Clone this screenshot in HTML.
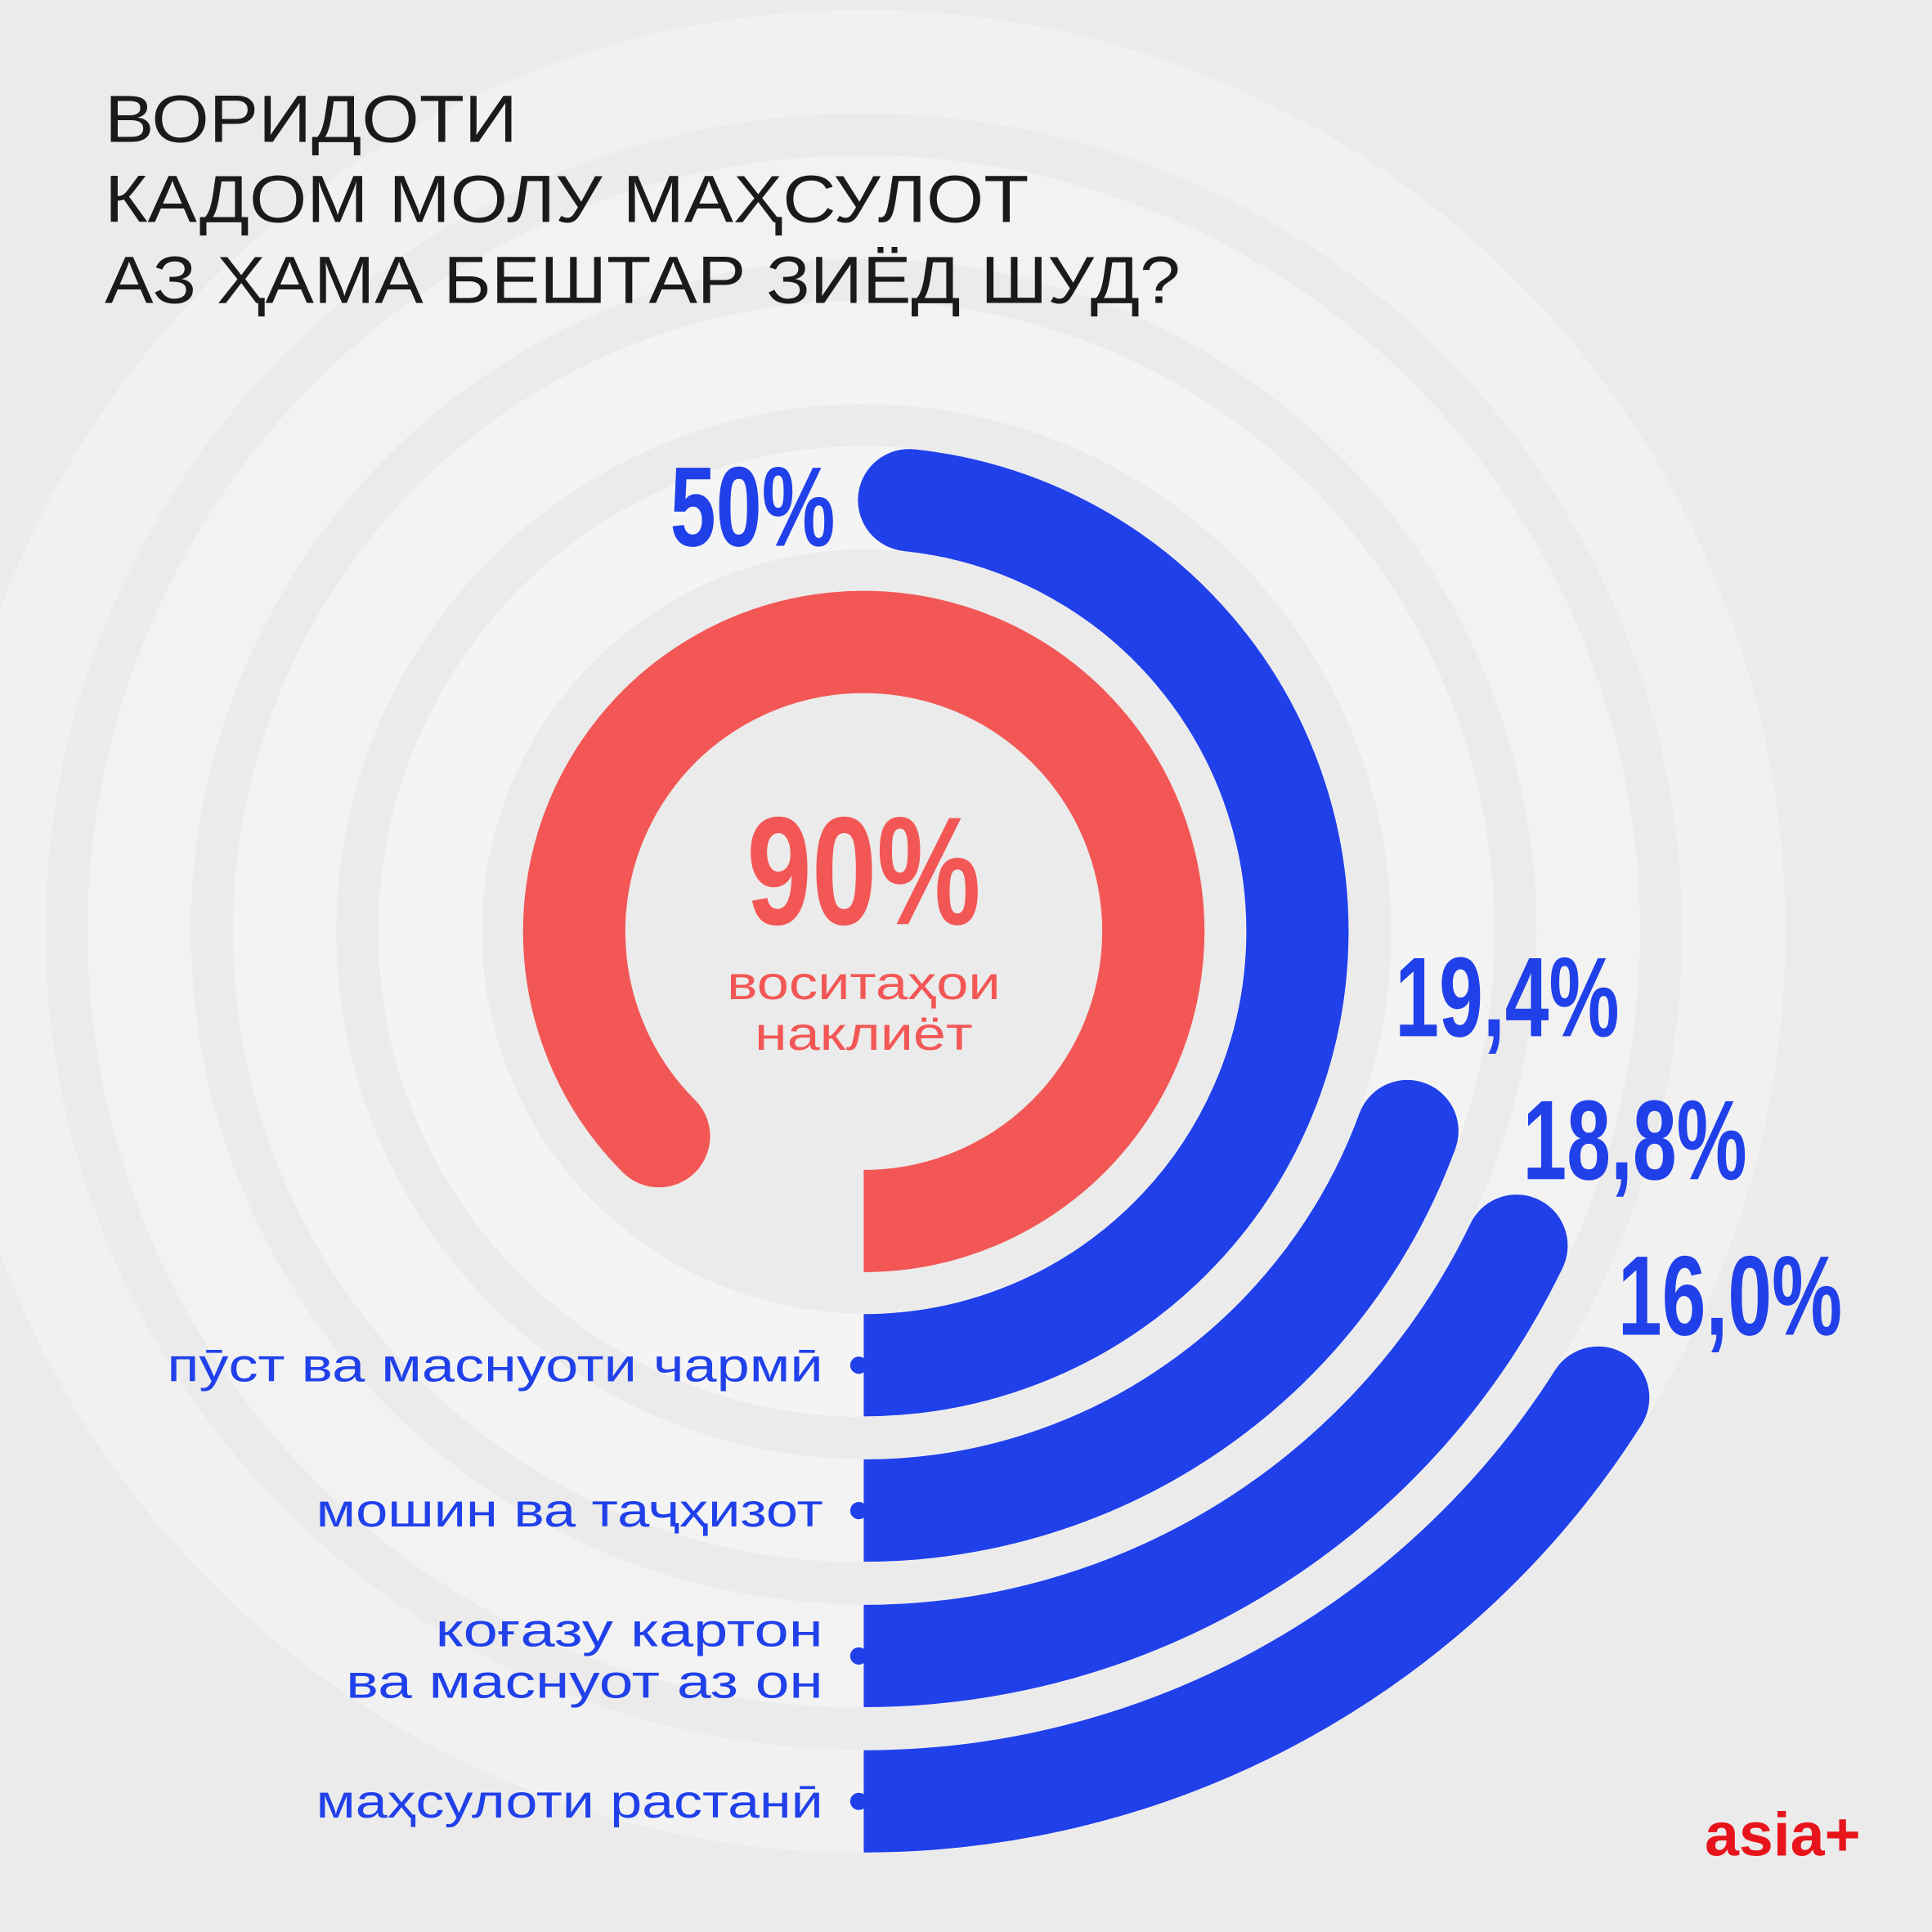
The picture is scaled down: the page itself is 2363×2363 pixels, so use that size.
<!DOCTYPE html>
<html><head><meta charset="utf-8"><style>
html,body{margin:0;padding:0;background:#ebebeb;}
svg{display:block;}
</style></head><body>
<svg width="2363" height="2363" viewBox="0 0 1568 1568" xmlns="http://www.w3.org/2000/svg">
<rect x="0" y="0" width="1568" height="1568" fill="#ebebeb"/>
<g fill="none">
<circle cx="701" cy="756" r="706" stroke="#f1f1f1" stroke-width="84"/>
<circle cx="701" cy="756" r="588" stroke="#f2f2f2" stroke-width="84"/>
<circle cx="701" cy="756" r="470" stroke="#f3f3f3" stroke-width="84"/>
<circle cx="701" cy="756" r="352" stroke="#f4f4f4" stroke-width="84"/>
</g>
<g font-family="Liberation Sans, sans-serif" font-size="54" fill="#1a1a1a">
<text x="85" y="115" textLength="335" lengthAdjust="spacingAndGlyphs">ВОРИДОТИ</text>
<text x="85" y="180" textLength="750" lengthAdjust="spacingAndGlyphs">КАДОМ МОЛУ МАҲСУЛОТ</text>
<text x="85" y="246" textLength="873" lengthAdjust="spacingAndGlyphs">АЗ ҲАМА БЕШТАР ЗИЁД ШУД?</text>
</g>
<g id="arcs"></g>
<g fill="#f25755" text-anchor="middle">
<text x="701" y="750" font-family="Liberation Sans Narrow, Liberation Sans, sans-serif" font-weight="bold" font-size="125" textLength="190" lengthAdjust="spacingAndGlyphs">90%</text>
<text x="701" y="811" font-family="Liberation Sans, sans-serif" font-size="38" textLength="222" lengthAdjust="spacingAndGlyphs">воситаҳои</text>
<text x="701" y="852" font-family="Liberation Sans, sans-serif" font-size="38" textLength="177" lengthAdjust="spacingAndGlyphs">наклиёт</text>
</g>
<g id="labels" font-family="Liberation Sans, sans-serif" font-size="38" fill="#2040ea" text-anchor="end"></g>
<text x="1510" y="1506" font-family="Liberation Sans, sans-serif" font-weight="bold" font-size="50" fill="#e8141c" text-anchor="end">asia+</text>
</svg>
<script>
const categories = ["пӯст ва маснуоти чармӣ", "мошин ва таҷҳизот", "коғазу картон|ва маснуот аз он", "маҳсулоти растанӣ"];
const values = [50, 19.4, 18.8, 16.0];
const valueLabels = ["50%", "19,4%", "18,8%", "16,0%"];
const redValue = 90;

const NS = "http://www.w3.org/2000/svg";
const cx = 701, cy = 756, W = 83;
function pt(r, deg){ const a = deg*Math.PI/180; return [cx + r*Math.cos(a), cy + r*Math.sin(a)]; }
function arcPath(r, sweep){
  const [x0,y0] = pt(r, 90);
  const [x1,y1] = pt(r, 90 - sweep);
  const large = sweep > 180 ? 1 : 0;
  return `M${x0},${y0} A${r},${r} 0 ${large} 0 ${x1},${y1}`;
}
const g = document.getElementById('arcs');
function drawArc(r, sweep, color, name){
  const p = document.createElementNS(NS,'path');
  p.setAttribute('d', arcPath(r, sweep));
  p.setAttribute('fill','none'); p.setAttribute('stroke',color); p.setAttribute('stroke-width',W);
  
  
  g.appendChild(p);
  const [x,y] = pt(r, 90 - sweep);
  const c = document.createElementNS(NS,'circle');
  c.setAttribute('cx',x); c.setAttribute('cy',y); c.setAttribute('r',W/2); c.setAttribute('fill',color);
  
  
  g.appendChild(c);
  return [x,y];
}
drawArc(235, redValue*3.5, '#f25755', 'red-arc');
const radii = [352, 470, 588, 706];
const lg = document.getElementById('labels');
values.forEach((v,i)=>{
  const r = radii[i];
  const factor = i===0 ? 3.48 : (i===2 ? 3.42 : 3.6);
  const [x,y] = drawArc(r, v*factor, '#2040ea', 'blue-arc-' + (i+1));
  const t = document.createElementNS(NS,'text');
  t.textContent = valueLabels[i];
  t.setAttribute('font-family','Liberation Sans Narrow, Liberation Sans, sans-serif');
  t.setAttribute('font-weight','bold');
  t.setAttribute('font-size','92');
  t.setAttribute('fill','#2040ea');
  t.setAttribute('text-anchor','start');
  t.setAttribute('lengthAdjust','spacingAndGlyphs');
  t.setAttribute('textLength', valueLabels[i].length > 3 ? 182 : 134);
  if(i===0){ t.setAttribute('x', x-194); t.setAttribute('y', y+37); }
  else if(i===1){ t.setAttribute('x', x-10); t.setAttribute('y', y-77); }
  else if(i===2){ t.setAttribute('x', x+5); t.setAttribute('y', y-54); }
  else { t.setAttribute('x', x+16); t.setAttribute('y', y-51); }
  
  
  g.appendChild(t);
  const yb = cy + r;
  const d = document.createElementNS(NS,'circle');
  d.setAttribute('cx',697); d.setAttribute('cy',yb); d.setAttribute('r',7); d.setAttribute('fill','#2040ea');
  
  
  lg.appendChild(d);
  const lines = categories[i].split('|');
  lines.forEach((ln,j)=>{
    const tt = document.createElementNS(NS,'text');
    tt.textContent = ln;
    tt.setAttribute('x', 668);
    tt.setAttribute('y', yb + 13 + (j - (lines.length-1)/2)*42);
    tt.setAttribute('textLength', ln.length*24.2);
    tt.setAttribute('lengthAdjust', 'spacingAndGlyphs');
    
    
    lg.appendChild(tt);
  });
});
</script>
</body></html>
